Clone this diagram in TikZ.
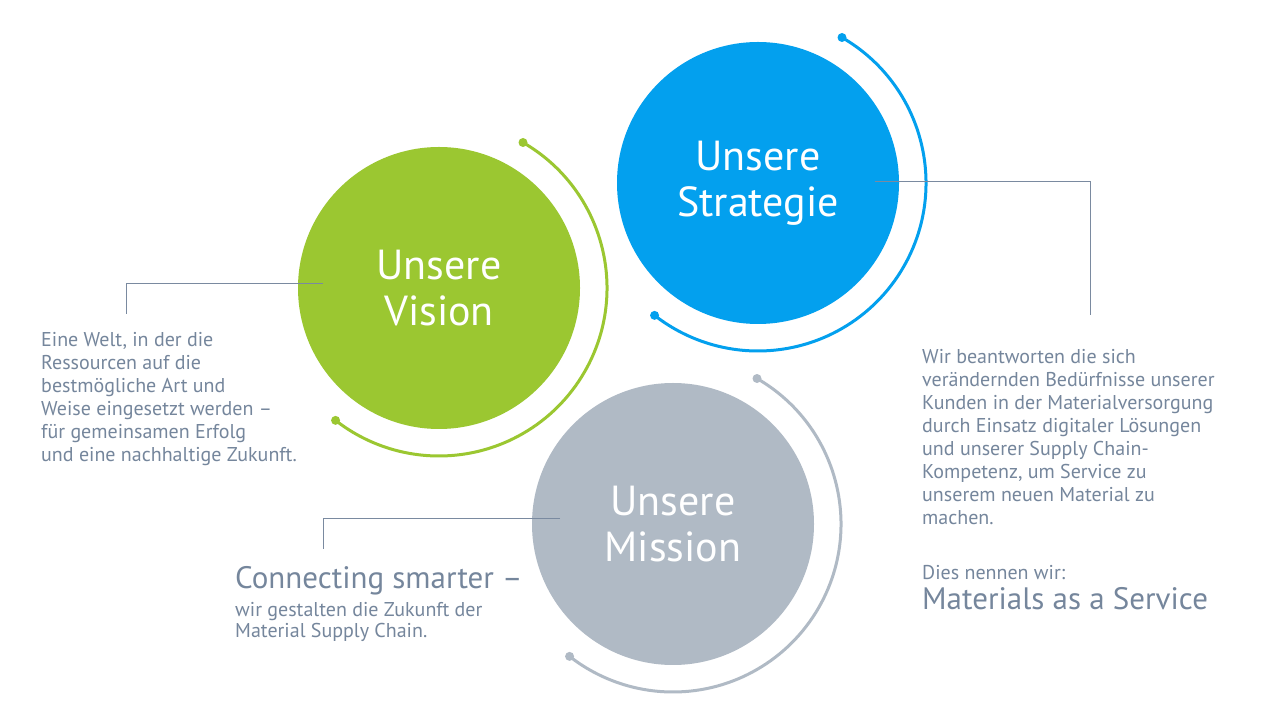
\documentclass[tikz,border=0pt]{standalone}
\usepackage{fontspec}
\setmainfont{PT Sans}
\usetikzlibrary{positioning, calc}
\definecolor{cVision}{HTML}{9BC731}
\definecolor{cStrategy}{HTML}{03A0EE}
\definecolor{cMission}{HTML}{B0BAC5}
\definecolor{cText}{HTML}{75869C}
\definecolor{cLine}{HTML}{7A8AA0}

\begin{document}
\begin{tikzpicture}[
  x=1pt, y=1pt,
  goal/.style={
    circle, fill=#1, inner sep=0pt, minimum size=282pt,
    align=center, text=white, font=\fontsize{42}{46}\selectfont
  },
  ring/.style={line width=3pt, draw=#1},
  conn/.style={draw=cLine, line width=1pt},
  body/.style={
    inner sep=0pt, align=left, text=cText, anchor=base west,
    font=\fontsize{20}{23}\selectfont
  },
  headline/.style={
    inner sep=0pt, anchor=base west, text=cText,
    font=\fontsize{31}{34}\selectfont
  },
]
\useasboundingbox[fill=white] (0,0) rectangle (1280,720);

% circles
\node[goal=cVision] (vision) at (439,432) {Unsere\\Vision};
\node[goal=cStrategy] (strategy) at (758,537) {Unsere\\Strategie};
\node[goal=cMission] (mission) at (673,196) {Unsere\\Mission};

% rings with end dots
\foreach \n/\c in {vision/cVision, strategy/cStrategy, mission/cMission} {
  \draw[ring=\c] (\n.center) ++(60:168) coordinate (\n A)
    arc[start angle=60, end angle=-128, radius=168] coordinate (\n B);
  \fill[\c] (\n A) circle (4.5) (\n B) circle (4.5);
}

% texts (anchored at the last baseline)
\node[body] (visiontext) at (41,258) {Eine Welt, in der die\\Ressourcen auf die\\bestmögliche Art und\\Weise eingesetzt werden –\\für gemeinsamen Erfolg\\und eine nachhaltige Zukunft.};
\node[body] (strattext) at (922,195) {Wir beantworten die sich\\verändernden Bedürfnisse unserer\\Kunden in der Materialversorgung\\durch Einsatz digitaler Lösungen\\und unserer Supply Chain-\\Kompetenz, um Service zu\\unserem neuen Material zu\\machen.};
\node[body] (callout) at (922,140) {Dies nennen wir:};
\node[headline] (maas) at (922,110) {Materials as a Service};
\node[headline] (smarter) at (235,131) {Connecting smarter –};
\node[body, font=\fontsize{20}{21}\selectfont] (missiontext) at (235,82) {wir gestalten die Zukunft der\\Material Supply Chain.};

% connectors
\coordinate (visionIn) at ($(vision.center)+(-116,4)$);
\coordinate (visionEnd) at (126,406);
\coordinate (strategyIn) at ($(strategy.center)+(117,1)$);
\coordinate (strategyEnd) at (1090,405);
\coordinate (missionIn) at ($(mission.center)+(-113,5)$);
\coordinate (missionEnd) at (323,171);
\draw[conn] (visionIn) -| (visionEnd);
\draw[conn] (strategyIn) -| (strategyEnd);
\draw[conn] (missionIn) -| (missionEnd);

\end{tikzpicture}
\end{document}
